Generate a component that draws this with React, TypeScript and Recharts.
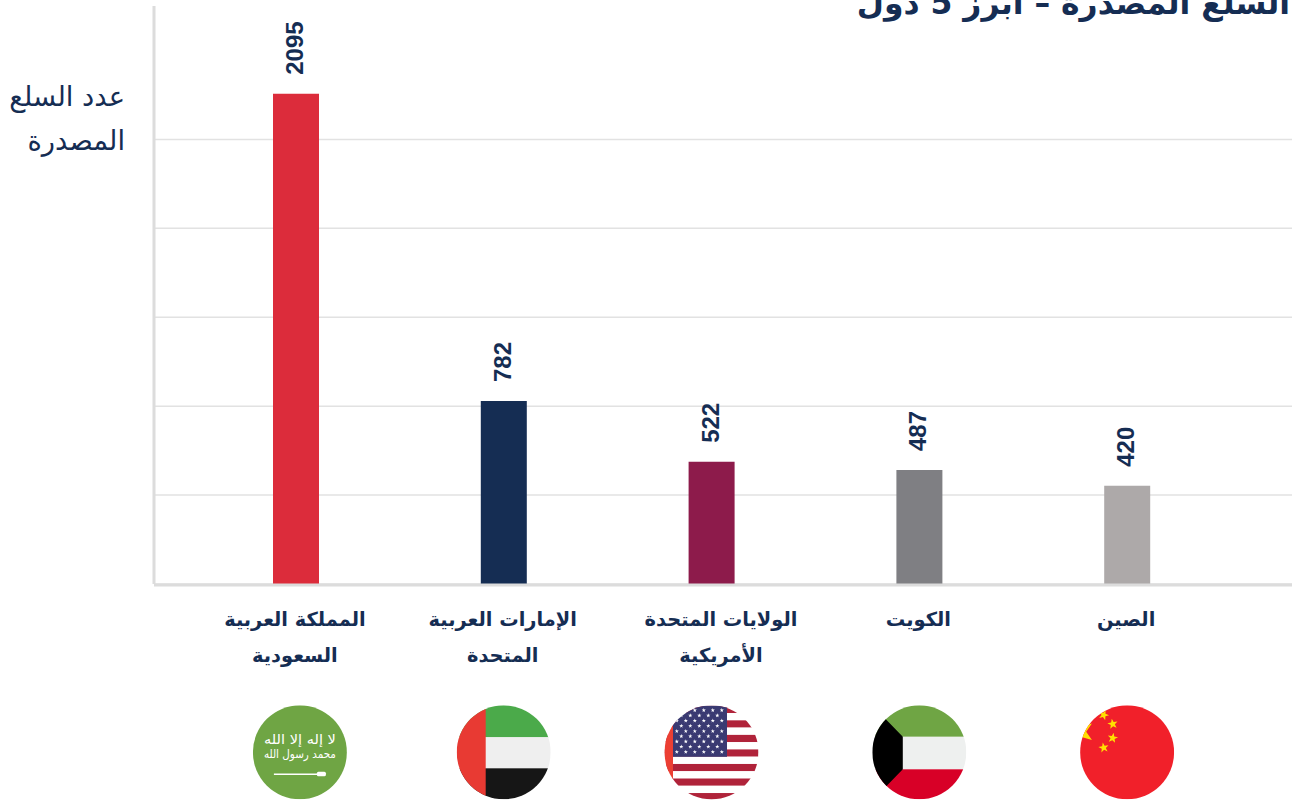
import React from "react";
import { BarChart, Bar, Cell, CartesianGrid, XAxis, YAxis, LabelList } from "recharts";

const countries = ["السعودية", "الإمارات", "أمريكا", "الكويت", "الصين"];
const labelLines = [
  ["المملكة العربية", "السعودية"],
  ["الإمارات العربية", "المتحدة"],
  ["الولايات المتحدة", "الأمريكية"],
  ["الكويت"],
  ["الصين"],
];
const exported = [2095, 782, 522, 487, 420];
const barColors = ["#DC2C3B", "#152D53", "#8D1B4B", "#7F7F83", "#ADA9A9"];
const yTicks = [0, 380, 760, 1140, 1520, 1900];

const NAVY = "#152D53";
const ARABIC = "'DejaVu Sans', sans-serif";
const rows = countries.map((name, i) => ({ name, value: exported[i] }));

const R = 47;

function star(cx: number, cy: number, r: number, rot = -90) {
  const pts: string[] = [];
  for (let i = 0; i < 10; i++) {
    const rad = i % 2 === 0 ? r : r * 0.4;
    const a = ((rot + i * 36) * Math.PI) / 180;
    pts.push(`${cx + rad * Math.cos(a)},${cy + rad * Math.sin(a)}`);
  }
  return pts.join(" ");
}

function SaudiFlag() {
  return (
    <g>
      <rect x={-R} y={-R} width={R * 2} height={R * 2} fill="#6FA544" />
      <text x={0} y={-8} textAnchor="middle" fontFamily={ARABIC} fontSize={13} fill="#fff" textLength={72} lengthAdjust="spacingAndGlyphs">
        لا إله إلا الله
      </text>
      <text x={0} y={6} textAnchor="middle" fontFamily={ARABIC} fontSize={12} fill="#fff" textLength={72} lengthAdjust="spacingAndGlyphs">
        محمد رسول الله
      </text>
      <rect x={-26} y={21.2} width={44} height={1.5} fill="#fff" />
      <rect x={17} y={19.5} width={9} height={4.5} rx={1.5} fill="#fff" />
    </g>
  );
}

function UaeFlag() {
  return (
    <g>
      <rect x={-R} y={-R} width={R * 2} height={32} fill="#4BAA4A" />
      <rect x={-R} y={-15} width={R * 2} height={31} fill="#EFEFEF" />
      <rect x={-R} y={16} width={R * 2} height={31} fill="#161616" />
      <rect x={-R} y={-R} width={29} height={R * 2} fill="#E83A33" />
    </g>
  );
}

function UsaFlag() {
  const stripes = Array.from({ length: 13 }, (_, i) => i);
  const stars: React.ReactNode[] = [];
  for (let row = 0; row < 9; row++) {
    const odd = row % 2 === 1;
    const n = odd ? 5 : 6;
    for (let c = 0; c < n; c++) {
      stars.push(
        <polygon key={`${row}-${c}`} points={star(-34.7 + (odd ? 4.5 : 0) + c * 9, -42 + row * 5.2, 2.2)} fill="#fff" />
      );
    }
  }
  return (
    <g>
      <rect x={-R} y={-R} width={R * 2} height={R * 2} fill="#fff" />
      {stripes.map((i) => (
        <rect key={i} x={-R} y={-46.5 + i * 7.27} width={R * 2} height={7.27} fill={i % 2 === 0 ? "#B0233A" : "#fff"} />
      ))}
      <rect x={-38.5} y={-46.5} width={54} height={51} fill="#3A3A72" />
      {stars}
      <rect x={-R} y={-R} width={8.5} height={R * 2} fill="#EC3F33" />
    </g>
  );
}

function KuwaitFlag() {
  return (
    <g>
      <rect x={-R} y={-R} width={R * 2} height={31.5} fill="#6FA544" />
      <rect x={-R} y={-15.5} width={R * 2} height={32.5} fill="#EEF0EF" />
      <rect x={-R} y={17} width={R * 2} height={30} fill="#D80027" />
      <polygon points={`${-R},${-R} -33.5,-33 -16.5,-15.5 -16.5,17 -33.5,34.5 ${-R},${R}`} fill="#000" />
    </g>
  );
}

function ChinaFlag() {
  return (
    <g>
      <rect x={-R} y={-R} width={R * 2} height={R * 2} fill="#F1202A" />
      <polygon points={star(-46.5, -20.5, 14, 180)} fill="#FFE000" />
      <polygon points={star(-23.4, -37.3, 5.4, -70)} fill="#FFE000" />
      <polygon points={star(-14.4, -28.3, 5.4, -100)} fill="#FFE000" />
      <polygon points={star(-14.4, -14.3, 5.4, -80)} fill="#FFE000" />
      <polygon points={star(-23.4, -4.6, 5.4, -100)} fill="#FFE000" />
    </g>
  );
}

const flags = [SaudiFlag, UaeFlag, UsaFlag, KuwaitFlag, ChinaFlag];
const flagShift = [4, 0, 0, 0, 0];
const labelShift = [-1, -1, 9.5, -1, -1];

function CountryTick({ x, index }: any) {
  const Flag = flags[index];
  const lines = labelLines[index];
  return (
    <g>
      {lines.map((line, i) => (
        <text key={i} x={x + labelShift[index]} y={626 + i * 36} textAnchor="middle" fontFamily={ARABIC} fontSize={19.4} fontWeight={700} fill={NAVY}>
          {line}
        </text>
      ))}
      <clipPath id={`flag-clip-${index}`}>
        <circle cx={0} cy={0} r={R} />
      </clipPath>
      <g transform={`translate(${x + flagShift[index]},752.3)`} clipPath={`url(#flag-clip-${index})`}>
        <Flag />
      </g>
    </g>
  );
}

function ValueLabel({ x, y, width, value }: any) {
  const cx = x + width / 2 + 7;
  const by = y - 19;
  return (
    <text transform={`rotate(-90 ${cx} ${by})`} x={cx} y={by} fontFamily="'Liberation Sans', Arial, sans-serif" fontSize={24} fontWeight={700} fill={NAVY}>
      {value}
    </text>
  );
}

export default function App() {
  return (
    <div style={{ position: "absolute", left: 0, top: 0, width: 1297, height: 801, overflow: "hidden", background: "#fff" }}>
      <BarChart width={1297} height={801} data={rows} margin={{ top: 6, right: 5, bottom: 0, left: 153 }}>
        <CartesianGrid vertical={false} horizontalValues={yTicks} stroke="#E2E2E2" strokeWidth={1.5} />
        <XAxis
          dataKey="name"
          height={217}
          interval={0}
          padding={{ left: 38, right: 61 }}
          axisLine={{ stroke: "#DCDCDC", strokeWidth: 3, transform: "translate(0,1)" }}
          tickLine={false}
          tick={<CountryTick />}
        />
        <YAxis
          width={1}
          domain={[0, 2470]}
          ticks={yTicks}
          tick={() => <g />}
          tickLine={false}
          axisLine={{ stroke: "#DCDCDC", strokeWidth: 3 }}
        />
        <Bar dataKey="value" barSize={46} isAnimationActive={false}>
          {rows.map((r, i) => (
            <Cell key={r.name} fill={barColors[i]} />
          ))}
          <LabelList dataKey="value" content={<ValueLabel />} />
        </Bar>
        <text x={1290} y={14} textAnchor="end" fontFamily={ARABIC} fontSize={31.4} fontWeight={700} fill={NAVY}>
          السلع المصدرة – أبرز 5 دول
        </text>
        <text x={125} y={106} textAnchor="end" fontFamily={ARABIC} fontSize={27.4} fill={NAVY}>
          عدد السلع
        </text>
        <text x={125} y={150} textAnchor="end" fontFamily={ARABIC} fontSize={27.4} fill={NAVY}>
          المصدرة
        </text>
      </BarChart>
    </div>
  );
}
